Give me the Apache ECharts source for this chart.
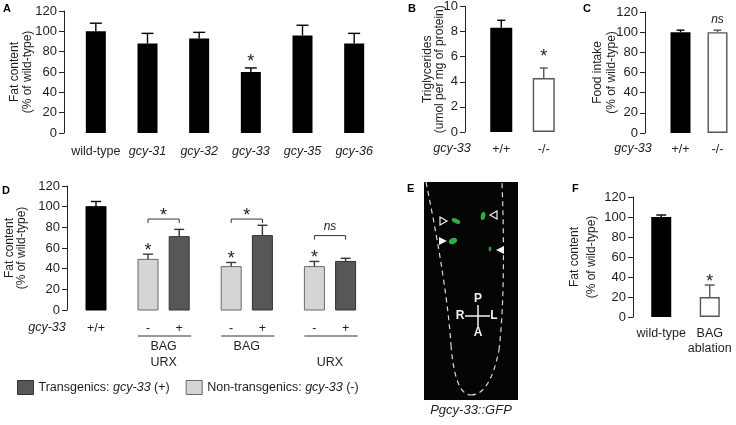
<!DOCTYPE html>
<html><head><meta charset="utf-8">
<script src="https://cdn.jsdelivr.net/npm/echarts@6/dist/echarts.min.js"></script>
<style>html,body{margin:0;padding:0;background:#fff}#c{width:736px;height:425px}</style>
</head><body><div id="c"></div>
<script>
const FONT = '"Liberation Sans", Arial, Helvetica, sans-serif';
const INK = '#1e1e1e';

// ---- Panel A: fat content by gcy mutant ----
const catsA = ['wild-type', 'gcy-31', 'gcy-32', 'gcy-33', 'gcy-35', 'gcy-36'];
const valsA = [100, 88, 93, 60, 96, 88];
const errA  = [108, 98, 99, 64, 106, 98];
const sigA  = ['', '', '', '*', '', ''];

// ---- Panel B: triglycerides ----
const catsB = ['+/+', '-/-'];
const valsB = [8.3, 4.3];
const errB  = [8.9, 5.1];
const sigB  = ['', '*'];

// ---- Panel C: food intake ----
const catsC = ['+/+', '-/-'];
const valsC = [100, 100];
const errC  = [102, 102];
const sigC  = ['', 'ns'];

// ---- Panel D: rescue ----
const dGeno = ['+/+', '-', '+', '-', '+', '-', '+'];
const dVal  = [100, 49, 71, 42, 72, 42, 47];
const dErr  = [105, 54, 78, 46, 82, 47, 50];
const dType = ['wt', 'non', 'tg', 'non', 'tg', 'non', 'tg'];
const dSig  = ['', '*', '', '*', '', '*', ''];
const dGroupBars = [[1, 2], [3, 4], [5, 6]];
const dGroupRow1 = ['BAG', 'BAG', ''];
const dGroupRow2 = ['URX', '', 'URX'];
const dCmpY     = [88, 88, 72];
const dCmpLabel = ['*', '*', 'ns'];

// ---- Panel F: BAG ablation ----
const catsF = ['wild-type', 'BAG\nablation'];
const valsF = [100, 20];
const errF  = [102, 32];
const sigF  = ['', '*'];

// layout helper (slot positions of panel D bars on a hidden axis)
const dSlot = [3, 8, 11, 16, 19, 24, 27];

const BLACK = {color: '#000'};
const WHITE = {color: '#fff', borderColor: '#555', borderWidth: 1.4};

function yAx(gi, max, interval, offset, name, nameGap, lh) {
  return {
    gridIndex: gi, type: 'value', min: 0, max, interval, offset, position: 'left',
    name, nameLocation: 'middle', nameGap, nameMoveOverlap: false,
    nameTextStyle: {fontSize: 12, color: INK, fontFamily: FONT, lineHeight: lh},
    axisLine: {show: true, onZero: false, lineStyle: {color: '#222', width: 1}},
    axisTick: {show: true, length: 5, lineStyle: {color: '#222', width: 1}},
    axisLabel: {fontSize: 13, color: INK, margin: 7, fontFamily: FONT},
    splitLine: {show: false}
  };
}
function xCat(gi, data, margin, lh) {
  return {
    gridIndex: gi, type: 'category', data,
    axisLine: {show: false}, axisTick: {show: false},
    axisLabel: {
      margin, fontSize: 12.5, color: INK, fontFamily: FONT, lineHeight: lh || 14, interval: 0,
      formatter: v => v.startsWith('gcy') ? '{i|' + v + '}' : v,
      rich: {i: {fontStyle: 'italic', fontSize: 12.5, color: INK, fontFamily: FONT}}
    }
  };
}
function barSeries(gi, vals, styles, width) {
  return {
    type: 'bar', xAxisIndex: gi, yAxisIndex: gi, barWidth: width, silent: true,
    data: vals.map((v, i) => ({value: v, itemStyle: styles[i]}))
  };
}
function errSeries(gi, vals, errs, sig, colors, cap, gap, sigSize) {
  return {
    type: 'custom', xAxisIndex: gi, yAxisIndex: gi, z: 5, silent: true,
    data: vals.map((v, i) => [i, v, errs[i]]),
    encode: {x: 0, y: [1, 2]},
    renderItem(params, api) {
      const i = params.dataIndex;
      const p1 = api.coord([i, vals[i]]);
      const pe = api.coord([i, errs[i]]);
      const x = p1[0], hw = cap / 2;
      const col = colors[i];
      const ch = [
        {type: 'line', shape: {x1: x, y1: p1[1], x2: x, y2: pe[1]}, style: {stroke: col, lineWidth: 1.4}},
        {type: 'line', shape: {x1: x - hw, y1: pe[1], x2: x + hw, y2: pe[1]}, style: {stroke: col, lineWidth: 1.4}}
      ];
      const s = sig[i];
      if (s) {
        const isStar = s === '*';
        ch.push({type: 'text', x: x, y: pe[1] - gap + (isStar ? 4 : 0),
          style: {text: s, fill: INK, fontSize: isStar ? sigSize : 12, fontStyle: isStar ? 'normal' : 'italic',
            fontFamily: FONT, align: 'center', verticalAlign: 'middle'}});
      }
      return {type: 'group', children: ch};
    }
  };
}

// Panel D custom bar series
const dStyles = {
  wt:  {fill: '#000', stroke: '#000', err: '#000'},
  non: {fill: '#d5d5d5', stroke: '#6a6a6a', err: '#3a3a3a'},
  tg:  {fill: '#575757', stroke: '#333', err: '#333'}
};
function dBarSeries(name, type) {
  const idxs = [];
  dVal.forEach((v, i) => { if (dType[i] === type) idxs.push(i); });
  const st = dStyles[type];
  return {
    type: 'custom', name, xAxisIndex: 3, yAxisIndex: 3, silent: true,
    itemStyle: {color: st.fill, borderColor: st.stroke, borderWidth: 1},
    data: idxs.map(i => [dSlot[i], dVal[i], dErr[i]]),
    encode: {x: 0, y: [1, 2]},
    renderItem(params, api) {
      const idx = idxs[params.dataIndex];
      const sx = dSlot[idx];
      const p0 = api.coord([sx, 0]), p1 = api.coord([sx, dVal[idx]]), pe = api.coord([sx, dErr[idx]]);
      const w = 20, x = p0[0], hw = 5;
      const ch = [
        {type: 'rect', shape: {x: x - w / 2, y: p1[1], width: w, height: p0[1] - p1[1]},
          style: {fill: st.fill, stroke: st.stroke, lineWidth: 1}},
        {type: 'line', shape: {x1: x, y1: p1[1], x2: x, y2: pe[1]}, style: {stroke: st.err, lineWidth: 1.4}},
        {type: 'line', shape: {x1: x - hw, y1: pe[1], x2: x + hw, y2: pe[1]}, style: {stroke: st.err, lineWidth: 1.4}},
        {type: 'text', x: x, y: p0[1] + 19, style: {text: dGeno[idx], fill: INK, fontSize: 12.5, fontFamily: FONT, align: 'center', verticalAlign: 'middle'}}
      ];
      if (dSig[idx]) ch.push({type: 'text', x: x, y: pe[1] - 3,
        style: {text: dSig[idx], fill: INK, fontSize: 18, fontFamily: FONT, align: 'center', verticalAlign: 'middle'}});
      return {type: 'group', children: ch};
    }
  };
}
const dGroupSeries = {
  type: 'custom', xAxisIndex: 3, yAxisIndex: 3, silent: true,
  data: dGroupBars.map((g, k) => [dSlot[g[0]], dCmpY[k]]),
  encode: {x: 0, y: 1},
  renderItem(params, api) {
    const k = params.dataIndex;
    const g = dGroupBars[k];
    const a = api.coord([dSlot[g[0]], 0]), b = api.coord([dSlot[g[1]], 0]);
    const yb = api.coord([dSlot[g[0]], dCmpY[k]])[1];
    const cx = (a[0] + b[0]) / 2;
    const lab = dCmpLabel[k];
    const ch = [
      {type: 'line', shape: {x1: a[0] - 10, y1: a[1] + 26, x2: b[0] + 12, y2: a[1] + 26}, style: {stroke: '#333', lineWidth: 1}},
      {type: 'text', x: cx, y: a[1] + 37, style: {text: dGroupRow1[k], fill: INK, fontSize: 12.5, fontFamily: FONT, align: 'center', verticalAlign: 'middle'}},
      {type: 'text', x: cx, y: a[1] + 53, style: {text: dGroupRow2[k], fill: INK, fontSize: 12.5, fontFamily: FONT, align: 'center', verticalAlign: 'middle'}},
      {type: 'polyline', shape: {points: [[a[0], yb + 4], [a[0], yb], [b[0], yb], [b[0], yb + 4]]}, style: {stroke: '#333', lineWidth: 1, fill: null}},
      {type: 'text', x: cx, y: yb - (lab === '*' ? 3 : 9),
        style: {text: lab, fill: INK, fontSize: lab === '*' ? 18 : 12, fontStyle: lab === '*' ? 'normal' : 'italic', fontFamily: FONT, align: 'center', verticalAlign: 'middle'}}
    ];
    return {type: 'group', children: ch};
  }
};

function gtext(x, y, text, opt) {
  return Object.assign({type: 'text', x, y, z: 100, silent: true,
    style: Object.assign({text, fill: INK, fontSize: 12.5, fontFamily: FONT, align: 'center', verticalAlign: 'middle'}, opt || {})});
}
const letter = (x, y, t) => gtext(x, y, t, {fontSize: 11, fontWeight: 'bold', align: 'left', verticalAlign: 'top', fill: '#000'});
const W = '#f2f2f2';
const GREEN = '#2fae45';
function blob(x, y, rx, ry, rot, col) {
  return {type: 'circle', z: 52, x, y, rotation: rot || 0, scaleX: rx / ry, scaleY: 1,
    shape: {cx: 0, cy: 0, r: ry}, style: {fill: col || GREEN}};
}
function dash(x1, y1, cx, cy, x2, y2) {
  return {type: 'bezierCurve', z: 51, shape: {x1, y1, cpx1: cx, cpy1: cy, x2, y2},
    style: {stroke: '#d8d8d8', fill: null, lineWidth: 1.2, lineDash: [5, 4]}};
}
const panelE = [
  {type: 'rect', z: 50, shape: {x: 424, y: 182, width: 94, height: 218}, style: {fill: '#050505'}},
  dash(426, 182, 447, 285, 451, 345),
  dash(451, 345, 455, 395, 471, 395),
  dash(471, 395, 490, 395, 499, 350),
  dash(499, 350, 506, 290, 502, 182),
  blob(456, 221, 4.6, 2.2, -0.45),
  blob(483, 216, 2.2, 4, -0.2),
  blob(453, 241, 4.2, 3, 0.4),
  blob(490, 249, 1.4, 2.4, 0, '#2a9a3e'),
  {type: 'polygon', z: 52, shape: {points: [[440, 217], [440, 225], [447, 221]]}, style: {fill: '#000', stroke: W, lineWidth: 1.2}},
  {type: 'polygon', z: 52, shape: {points: [[497, 211], [497, 219], [490, 215]]}, style: {fill: '#000', stroke: W, lineWidth: 1.2}},
  {type: 'polygon', z: 52, shape: {points: [[439, 237], [439, 245], [447, 241]]}, style: {fill: W}},
  {type: 'polygon', z: 52, shape: {points: [[504, 246], [504, 254], [496, 250]]}, style: {fill: W}},
  {type: 'line', z: 52, shape: {x1: 465, y1: 316, x2: 490, y2: 316}, style: {stroke: W, lineWidth: 1.5}},
  {type: 'line', z: 52, shape: {x1: 478, y1: 305, x2: 478, y2: 327}, style: {stroke: W, lineWidth: 1.5}},
  gtext(478, 299, 'P', {fill: W, fontWeight: 'bold', fontSize: 12}),
  gtext(460, 316, 'R', {fill: W, fontWeight: 'bold', fontSize: 12}),
  gtext(494, 316, 'L', {fill: W, fontWeight: 'bold', fontSize: 12}),
  gtext(478, 333, 'A', {fill: W, fontWeight: 'bold', fontSize: 12}),
  gtext(471, 410, 'Pgcy-33::GFP', {fontStyle: 'italic', fontSize: 13})
];

const option = {
  animation: false,
  textStyle: {fontFamily: FONT},
  grid: [
    {left: 70, top: 11, width: 310, height: 122},
    {left: 480, top: 6, width: 85, height: 126},
    {left: 662, top: 12, width: 80, height: 121},
    {left: 70, top: 186, width: 301.6, height: 124},
    {left: 637, top: 197, width: 97, height: 120}
  ],
  xAxis: [
    xCat(0, catsA, 12),
    xCat(1, catsB, 11),
    xCat(2, catsC, 10),
    {gridIndex: 3, type: 'value', min: 0.5, max: 29.5, show: true,
      axisLine: {show: false, onZero: false}, axisTick: {show: false}, axisLabel: {show: false}, splitLine: {show: false}},
    xCat(4, catsF, 9, 15)
  ],
  yAxis: [
    yAx(0, 120, 20, 6, 'Fat content\n(% of wild-type)', 30, 13),
    yAx(1, 10, 2, 15, 'Triglycerides\n(umol per mg of protein)', 19, 12),
    yAx(2, 120, 20, 17, 'Food intake\n(% of wild-type)', 26, 14),
    yAx(3, 120, 20, 3, 'Fat content\n(% of wild-type)', 39, 12),
    yAx(4, 120, 20, 4, 'Fat content\n(% of wild-type)', 33, 17)
  ],
  legend: {
    left: 17, top: 380, padding: 0, itemWidth: 16, itemHeight: 14, itemGap: 16, selectedMode: false,
    data: [
      {name: 'Transgenics', icon: 'rect', itemStyle: {color: '#575757', borderColor: '#333', borderWidth: 1}},
      {name: 'Non-transgenics', icon: 'rect', itemStyle: {color: '#d5d5d5', borderColor: '#6a6a6a', borderWidth: 1}}
    ],
    formatter: n => n === 'Transgenics' ? 'Transgenics: {i|gcy-33} (+)' : 'Non-transgenics: {i|gcy-33} (-)',
    textStyle: {fontSize: 12.5, color: INK, fontFamily: FONT,
      rich: {i: {fontStyle: 'italic', fontSize: 12.5, color: INK, fontFamily: FONT}}}
  },
  series: [
    barSeries(0, valsA, valsA.map(() => BLACK), 20),
    errSeries(0, valsA, errA, sigA, valsA.map(() => '#000'), 12, 10, 18),
    barSeries(1, valsB, [BLACK, WHITE], 22),
    errSeries(1, valsB, errB, sigB, ['#000', '#555'], 8, 15, 18),
    barSeries(2, valsC, [BLACK, WHITE], 20),
    errSeries(2, valsC, errC, sigC, ['#000', '#555'], 8, 10, 18),
    dBarSeries('wt', 'wt'),
    dBarSeries('Non-transgenics', 'non'),
    dBarSeries('Transgenics', 'tg'),
    dGroupSeries,
    barSeries(4, valsF, [BLACK, WHITE], 20),
    errSeries(4, valsF, errF, sigF, ['#000', '#555'], 10, 7, 18)
  ],
  graphic: [
    letter(3, 3, 'A'), letter(408, 3, 'B'), letter(583, 3, 'C'),
    letter(2, 185, 'D'), letter(407, 183, 'E'), letter(572, 183, 'F'),
    gtext(452, 149, 'gcy-33', {fontStyle: 'italic'}),
    gtext(633, 149, 'gcy-33', {fontStyle: 'italic'}),
    gtext(47, 328, 'gcy-33', {fontStyle: 'italic'})
  ].concat(panelE)
};
const chart = echarts.init(document.getElementById('c'), null, {renderer: 'canvas'});
chart.setOption(option);
</script>
</body></html>
